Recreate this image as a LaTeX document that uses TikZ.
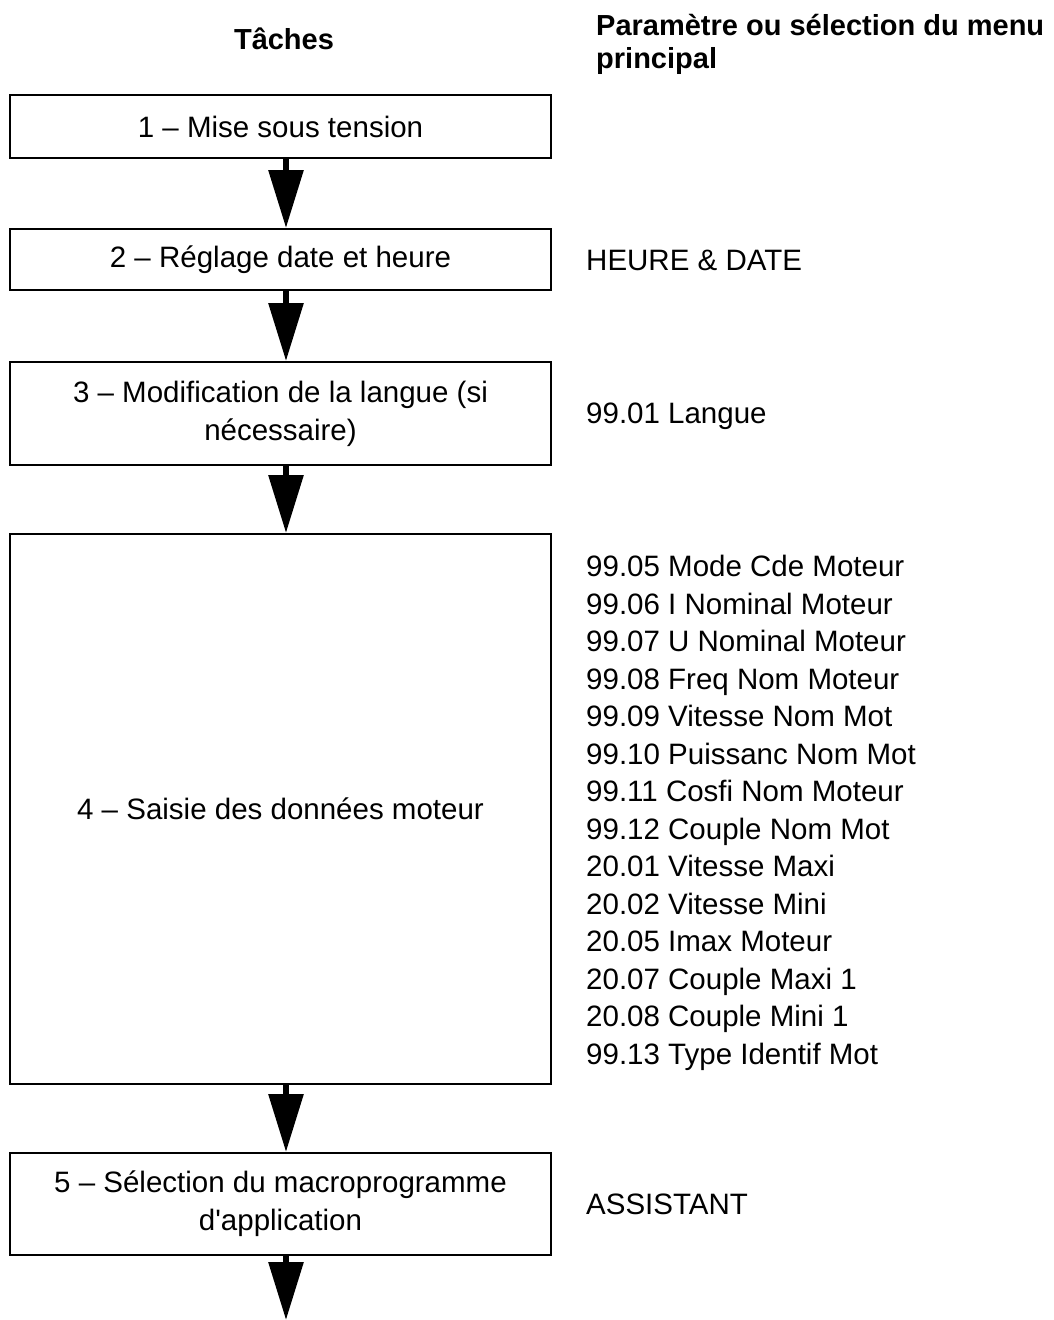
\documentclass[tikz,border=0pt]{standalone}
\usepackage{fontspec}
\setmainfont{Liberation Sans}
\usetikzlibrary{arrows.meta}
\begin{document}
\begin{tikzpicture}[x=1pt,y=-1pt,
  task/.style={draw, line width=2pt, minimum width=541pt, inner sep=0pt, align=center, font=\fontsize{29.5}{38}\selectfont},
  info/.style={anchor=base west, inner sep=0pt, font=\fontsize{29.5}{37.5}\selectfont},
  head/.style={inner sep=0pt, font=\fontsize{29}{33}\selectfont\bfseries},
  flow/.style={line width=6pt, -{Triangle[length=58pt,width=34pt]}}]
\useasboundingbox (0,0) rectangle (1054,1320);
\node[head, anchor=base] (hTaches) at (284,49) {Tâches};
\node[head, anchor=base west, align=left] (hParam) at (596,68) {Paramètre ou sélection du menu\\principal};

\node[task, minimum height=63pt] (b1) at (280.5,126.5) {1 – Mise sous tension};
\node[task, minimum height=61pt] (b2) at (280.5,259.5) {2 – Réglage date et heure};
\node[task, minimum height=103pt] (b3) at (280.5,413.5) {3 – Modification de la langue (si\\nécessaire)};
\node[task, minimum height=550pt] (b4) at (280.5,809) {4 – Saisie des données moteur};
\node[task, minimum height=102pt] (b5) at (280.5,1204) {5 – Sélection du macroprogramme\\d\textquotesingle application};
\coordinate (end) at (286,1320);

\draw[flow] ([xshift=5.5pt]b1.south) -- ([xshift=5.5pt]b2.north);
\draw[flow] ([xshift=5.5pt]b2.south) -- ([xshift=5.5pt]b3.north);
\draw[flow] ([xshift=5.5pt]b3.south) -- ([xshift=5.5pt]b4.north);
\draw[flow] ([xshift=5.5pt]b4.south) -- ([xshift=5.5pt]b5.north);
\draw[flow] ([xshift=5.5pt]b5.south) -- (end);

\node[info] (t2) at (586,270.5) {HEURE \& DATE};
\node[info] (t3) at (586,423.5) {99.01 Langue};
\foreach \txt [count=\i] in {99.05 Mode Cde Moteur, 99.06 I Nominal Moteur, 99.07 U Nominal Moteur,
  99.08 Freq Nom Moteur, 99.09 Vitesse Nom Mot, 99.10 Puissanc Nom Mot, 99.11 Cosfi Nom Moteur,
  99.12 Couple Nom Mot, 20.01 Vitesse Maxi, 20.02 Vitesse Mini, 20.05 Imax Moteur,
  20.07 Couple Maxi 1, 20.08 Couple Mini 1, 99.13 Type Identif Mot}
  \node[info] (p\i) at (586,{576.5+37.5*(\i-1)}) {\txt};
\node[info] (t5) at (586,1214.5) {ASSISTANT};
\end{tikzpicture}
\end{document}
